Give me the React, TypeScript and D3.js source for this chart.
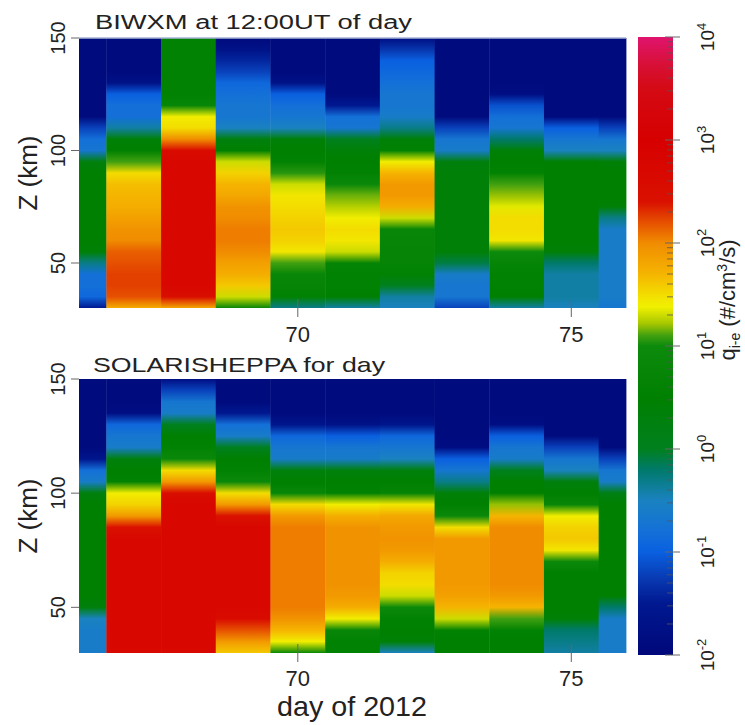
import React from 'react';
import * as d3 from 'd3';

// Day-of-year columns (each column is one day wide, centred on the day)
const days = [66, 67, 68, 69, 70, 71, 72, 73, 74, 75, 76];
// Altitude levels (km) of each profile value
const altitudes = [30, 35, 40, 45, 50, 55, 60, 65, 70, 75, 80, 85, 90, 95, 100, 105, 110, 115, 120, 125, 130, 135, 140, 145, 150];

// log10 of q_i-e (#/cm^3/s), one profile per day, bottom (30 km) to top (150 km)
const biwxmLogQ = [
  [-1.5, -0.9, -0.8, -0.8, -0.3, 0.4, 0.5, 0.5, 0.5, 0.5, 0.5, 0.5, 0.5, 0.3, -0.7, -0.8, -1.2, -1.9, -1.9, -1.9, -1.9, -1.9, -1.9, -1.9, -1.9],
  [1.75, 2.2, 2.25, 2.25, 2.2, 2.15, 2.0, 1.95, 1.85, 1.75, 1.7, 1.65, 1.5, 1.1, 0.5, 0.4, -0.4, -0.8, -0.8, -1.0, -1.7, -1.9, -1.9, -1.9, -1.9],
  [1.8, 2.5, 2.7, 2.7, 2.7, 2.7, 2.7, 2.7, 2.7, 2.7, 2.7, 2.7, 2.7, 2.7, 2.6, 2.0, 1.5, 1.4, 0.8, 0.6, 0.6, 0.6, 0.6, 0.6, 0.6],
  [0.8, 1.3, 1.6, 1.75, 1.85, 2.0, 2.05, 2.05, 2.0, 1.95, 1.8, 1.7, 1.55, 1.3, 0.5, 0.3, -0.5, -0.7, -0.7, -0.8, -0.9, -1.2, -1.4, -1.7, -1.9],
  [-0.3, 0.6, 0.7, 0.8, 1.1, 1.45, 1.55, 1.6, 1.55, 1.5, 1.45, 1.3, 1.05, 0.6, 0.5, 0.4, -0.5, -0.7, -0.8, -1.0, -1.7, -1.9, -1.9, -1.9, -1.9],
  [-0.4, 0.5, 0.6, 0.6, 0.7, 1.3, 1.45, 1.5, 1.4, 1.25, 1.15, 0.9, 0.6, 0.5, 0.4, 0.0, -0.7, -0.8, -1.5, -1.9, -1.9, -1.9, -1.9, -1.9, -1.9],
  [-0.5, -0.4, 0.0, 0.6, 0.7, 0.7, 0.75, 0.8, 1.3, 1.75, 1.9, 1.9, 1.7, 1.4, 0.6, 0.4, -0.3, -0.6, -0.7, -0.7, -0.8, -0.9, -1.0, -1.3, -1.8],
  [-1.2, -0.7, -0.7, -0.6, -0.1, 0.4, 0.4, 0.4, 0.4, 0.4, 0.4, 0.4, 0.4, 0.3, -0.6, -0.7, -1.2, -1.9, -1.9, -1.9, -1.9, -1.9, -1.9, -1.9, -1.9],
  [-0.4, 0.5, 0.6, 0.6, 0.7, 1.0, 1.45, 1.5, 1.5, 1.35, 1.2, 1.1, 0.6, 0.5, 0.4, -0.2, -0.7, -0.8, -1.1, -1.8, -1.9, -1.9, -1.9, -1.9, -1.9],
  [-0.5, -0.4, -0.4, -0.4, -0.2, 0.4, 0.5, 0.5, 0.5, 0.5, 0.5, 0.5, 0.5, 0.5, -0.5, -0.7, -1.0, -1.9, -1.9, -1.9, -1.9, -1.9, -1.9, -1.9, -1.9],
  [-0.7, -0.6, -0.6, -0.6, -0.6, -0.6, -0.6, -0.6, -0.3, 0.4, 0.5, 0.5, 0.5, 0.4, -0.5, -0.7, -1.2, -1.9, -1.9, -1.9, -1.9, -1.9, -1.9, -1.9, -1.9],
];

const solarisLogQ = [
  [-0.6, -0.6, -0.6, -0.5, 0.3, 0.5, 0.5, 0.5, 0.5, 0.5, 0.5, 0.5, 0.5, 0.5, 0.3, -0.6, -0.8, -1.6, -1.9, -1.9, -1.9, -1.9, -1.9, -1.9, -1.9],
  [2.7, 2.7, 2.7, 2.7, 2.7, 2.7, 2.7, 2.7, 2.7, 2.7, 2.7, 2.4, 1.9, 1.55, 1.4, 0.6, 0.5, 0.3, -0.6, -0.7, -0.9, -1.8, -1.9, -1.9, -1.9],
  [2.7, 2.7, 2.7, 2.7, 2.7, 2.7, 2.7, 2.7, 2.7, 2.7, 2.7, 2.7, 2.7, 2.7, 2.5, 1.9, 1.5, 0.9, 0.6, 0.5, 0.0, -0.6, -0.7, -1.2, -1.8],
  [1.6, 1.9, 2.2, 2.6, 2.7, 2.7, 2.7, 2.7, 2.7, 2.7, 2.7, 2.7, 2.4, 1.9, 1.5, 0.9, 0.6, 0.5, 0.0, -0.6, -0.8, -1.5, -1.9, -1.9, -1.9],
  [0.8, 1.4, 1.7, 1.95, 2.05, 2.05, 2.05, 2.05, 2.05, 2.05, 2.05, 2.05, 1.9, 1.5, 0.8, 0.5, 0.3, -0.6, -0.7, -0.9, -1.6, -1.9, -1.9, -1.9, -1.9],
  [0.6, 0.6, 0.8, 1.4, 1.75, 1.9, 1.95, 1.95, 1.95, 1.95, 1.95, 1.95, 1.75, 1.4, 0.6, 0.5, 0.3, -0.6, -0.7, -1.0, -1.7, -1.9, -1.9, -1.9, -1.9],
  [-0.5, 0.4, 0.5, 0.6, 0.9, 1.3, 1.5, 1.55, 1.75, 1.9, 1.95, 1.9, 1.8, 1.45, 0.7, 0.5, 0.3, -0.5, -0.7, -0.9, -1.6, -1.9, -1.9, -1.9, -1.9],
  [0.5, 0.5, 0.6, 1.3, 1.7, 1.85, 1.9, 1.9, 1.9, 1.9, 1.9, 1.5, 0.9, 0.5, 0.4, -0.3, -0.7, -1.0, -1.8, -1.9, -1.9, -1.9, -1.9, -1.9, -1.9],
  [0.5, 0.5, 0.6, 1.1, 1.7, 1.9, 2.0, 2.0, 2.0, 2.0, 2.0, 2.0, 1.7, 1.2, 0.5, 0.5, 0.0, -0.6, -0.7, -1.0, -1.8, -1.9, -1.9, -1.9, -1.9],
  [-0.4, -0.3, -0.2, 0.4, 0.5, 0.5, 0.5, 0.5, 0.9, 1.45, 1.6, 1.55, 1.4, 0.8, 0.5, 0.3, -0.5, -0.7, -1.2, -1.9, -1.9, -1.9, -1.9, -1.9, -1.9],
  [-0.6, -0.6, -0.6, -0.6, -0.2, 0.5, 0.5, 0.5, 0.5, 0.5, 0.5, 0.5, 0.5, 0.5, 0.2, -0.6, -0.7, -1.2, -1.9, -1.9, -1.9, -1.9, -1.9, -1.9, -1.9],
];

const panelTitles = ['BIWXM at 12:00UT of day', 'SOLARISHEPPA for day'];
const xTickValues = [70, 75];
const yTickValues = [50, 100, 150];
const cbarExponents = [-2, -1, 0, 1, 2, 3, 4];
const minorMultipliers = [2, 3, 4, 5, 6, 7, 8, 9];

// colour table (log10 value -> colour)
const colorDomain = [-2.0, -1.5, -1.27, -1.0, -0.8, -0.5, -0.2, 0.0, 0.5, 1.0, 1.1, 1.22, 1.38, 1.45, 1.7, 2.0, 2.2, 2.4, 3.0, 3.5, 3.75, 4.0];
const colorRange = ['#00087a', '#001890', '#0838b0', '#0a60e0', '#1470d8', '#1a82c0', '#007a6a', '#00801e', '#008000', '#0c8a0c', '#40a010', '#a8c800', '#f0f000', '#f2e600', '#f5b400', '#f08c00', '#e65000', '#da1000', '#d60000', '#d40a14', '#d8103a', '#e0146e'];

const FONT = '"Liberation Sans", Arial, Helvetica, sans-serif';
const TXT = '#222';

export default function App() {
  const plotLeft = 79;
  const plotRight = 626;
  const panels = [
    { data: biwxmLogQ, top: 38, bottom: 308, titleX: 95, titleY: 29, titleLen: 317, tickLabelY: 342 },
    { data: solarisLogQ, top: 379, bottom: 653, titleX: 93, titleY: 372, titleLen: 292, tickLabelY: 686 },
  ];
  const x = d3.scaleLinear().domain([66, 76]).range([plotLeft, plotRight]);
  const color = d3
    .scaleLinear<string>()
    .domain(colorDomain)
    .range(colorRange)
    .interpolate(d3.interpolateRgb)
    .clamp(true);

  const cb = { x0: 638, x1: 673, top: 37, bottom: 655 };
  const cy = d3.scaleLinear().domain([-2, 4]).range([cb.bottom, cb.top]);

  const zMin = altitudes[0];
  const zMax = altitudes[altitudes.length - 1];

  return (
    <svg
      width={745}
      height={725}
      style={{ position: 'absolute', left: 0, top: 0, background: '#fff' }}
      fontFamily={FONT}
    >
      <defs>
        {panels.map((p, pi) =>
          p.data.map((profile, di) => (
            <linearGradient key={`g${pi}-${di}`} id={`g${pi}-${di}`} x1="0" y1="0" x2="0" y2="1">
              {altitudes
                .map((z, k) => ({ z, v: profile[k] }))
                .reverse()
                .map((s, k) => (
                  <stop key={k} offset={(zMax - s.z) / (zMax - zMin)} stopColor={color(s.v)} />
                ))}
            </linearGradient>
          ))
        )}
        <linearGradient id="cbar" x1="0" y1="1" x2="0" y2="0">
          {colorDomain.map((v, k) => (
            <stop key={k} offset={(v + 2) / 6} stopColor={colorRange[k]} />
          ))}
        </linearGradient>
      </defs>

      {panels.map((p, pi) => {
        const y = d3.scaleLinear().domain([zMin, zMax]).range([p.bottom, p.top]);
        const midY = (p.top + p.bottom) / 2;
        return (
          <g key={pi}>
            {days.map((d, di) => {
              const xa = Math.max(x(d - 0.5), plotLeft);
              const xb = Math.min(x(d + 0.5), plotRight);
              return (
                <rect
                  key={di}
                  x={xa}
                  y={y(zMax)}
                  width={xb - xa + 0.4}
                  height={y(zMin) - y(zMax)}
                  fill={`url(#g${pi}-${di})`}
                />
              );
            })}
            {pi === 0 && (
              <line x1={plotLeft} x2={plotRight} y1={p.top} y2={p.top} stroke="#a9b4d6" strokeWidth={1.5} />
            )}
            {/* title */}
            <text
              x={p.titleX}
              y={p.titleY}
              fontSize={pi === 0 ? 20 : 21}
              fill={TXT}
              textLength={p.titleLen}
              lengthAdjust="spacingAndGlyphs"
            >
              {panelTitles[pi]}
            </text>
            {/* x ticks */}
            {xTickValues.map((t) => (
              <g key={t}>
                <line x1={x(t)} x2={x(t)} y1={p.bottom - 9} y2={p.bottom + 9} stroke="#666" strokeWidth={1} />
                <text x={x(t)} y={p.tickLabelY} fontSize={22} textAnchor="middle" fill={TXT}>
                  {t}
                </text>
              </g>
            ))}
            {/* y ticks */}
            {yTickValues.map((t) => (
              <g key={t}>
                <line x1={plotLeft - 8} x2={plotLeft} y1={y(t)} y2={y(t)} stroke="#666" strokeWidth={1} />
                <text
                  transform={`translate(65,${y(t)}) rotate(-90)`}
                  fontSize={20}
                  textAnchor="middle"
                  fill={TXT}
                >
                  {t}
                </text>
              </g>
            ))}
            <text
              transform={`translate(37,${midY}) rotate(-90)`}
              fontSize={26}
              textAnchor="middle"
              fill={TXT}
            >
              Z (km)
            </text>
          </g>
        );
      })}

      <text x={277} y={716} fontSize={28} fill={TXT} textLength={150} lengthAdjust="spacingAndGlyphs">
        day of 2012
      </text>

      {/* colour bar */}
      <rect x={cb.x0} y={cb.top} width={cb.x1 - cb.x0} height={cb.bottom - cb.top} fill="url(#cbar)" />
      {cbarExponents.slice(0, -1).map((e) =>
        minorMultipliers.map((m) => {
          const yy = cy(e + Math.log10(m));
          return <line key={`${e}-${m}`} x1={cb.x1 - 6} x2={cb.x1} y1={yy} y2={yy} stroke="#555" strokeWidth={0.8} />;
        })
      )}
      {cbarExponents.map((e) => (
        <g key={e}>
          <line x1={cb.x1 - 8} x2={cb.x1 + 7} y1={cy(e)} y2={cy(e)} stroke="#666" strokeWidth={1} />
          <text transform={`translate(714,${cy(e)}) rotate(-90)`} fontSize={19} textAnchor="middle" fill={TXT}>
            10
            <tspan dy={-8} fontSize={13}>
              {e}
            </tspan>
          </text>
        </g>
      ))}
      <text transform={`translate(735,300) rotate(-90)`} fontSize={22} textAnchor="middle" fill={TXT}>
        q
        <tspan dy={5} fontSize={14}>
          i-e
        </tspan>
        <tspan dy={-5}>{'  (#/cm'}</tspan>
        <tspan dy={-8} fontSize={14}>
          3
        </tspan>
        <tspan dy={8}>/s)</tspan>
      </text>
    </svg>
  );
}
